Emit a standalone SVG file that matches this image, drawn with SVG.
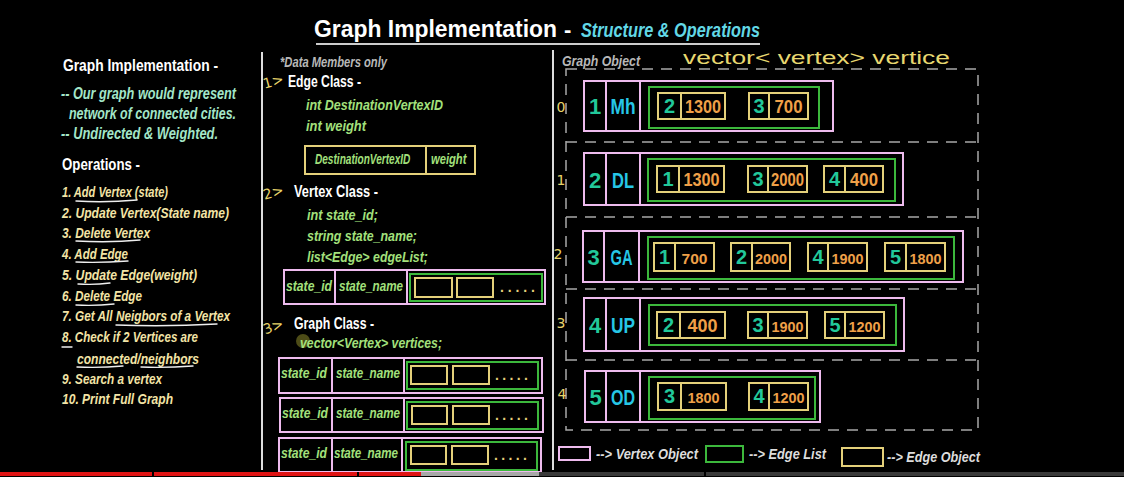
<svg xmlns="http://www.w3.org/2000/svg" width="1124" height="477" viewBox="0 0 1124 477">
<defs>
<style>
text{font-family:"Liberation Sans Narrow","Liberation Sans",Arial,sans-serif;}
.h{fill:#ffffff;font-weight:bold;font-size:17px;}
.tl{fill:#a3e6c8;font-weight:bold;font-style:italic;font-size:16px;}
.op{fill:#f3e4a6;font-weight:bold;font-style:italic;font-size:15.5px;}
.cd{fill:#a3e07c;font-weight:bold;font-style:italic;font-size:15.5px;}
.cds{fill:#a3e07c;font-weight:bold;font-style:italic;font-size:14px;}
.gr{fill:#b8b8b8;font-weight:bold;font-style:italic;font-size:14px;}
.lg{fill:#dddddd;font-weight:bold;font-style:italic;font-size:15px;}
.hw{fill:#e8d46a;font-family:"DejaVu Sans",sans-serif;font-size:14px;font-weight:normal;}
.pink{fill:none;stroke:#eebbee;stroke-width:2;}
.grn{fill:none;stroke:#3cb83c;stroke-width:2;}
.yel{fill:none;stroke:#e4d07a;stroke-width:2;}
.dash{fill:none;stroke:#a8a8a8;stroke-width:1.5;stroke-dasharray:11 8;}
.ul{fill:none;stroke:#eeeeee;stroke-width:1.4;stroke-linecap:round;}
.vid{fill:#22c89a;font-weight:bold;font-size:22px;text-anchor:middle;}
.vn{fill:#26c6e6;font-weight:bold;font-size:22px;text-anchor:middle;}
.ed{fill:#22c89a;font-weight:bold;font-size:20px;text-anchor:middle;}
.ew{fill:#f0a048;font-weight:bold;font-size:18px;text-anchor:middle;}
.ews{fill:#f0a048;font-weight:bold;font-size:15.5px;text-anchor:middle;}
.dots{fill:#e4d07a;font-weight:bold;font-size:14px;}
</style>
</defs>
<rect x="0" y="0" width="1124" height="477" fill="#000000"/>

<g id="title">
<text x="314" y="37" fill="#ffffff" font-weight="bold" font-size="23" textLength="243" lengthAdjust="spacingAndGlyphs">Graph Implementation</text>
<text x="564" y="37" fill="#ffffff" font-weight="bold" font-size="22">-</text>
<text x="581" y="37" fill="#62d8e6" font-weight="bold" font-style="italic" font-size="21" textLength="179" lengthAdjust="spacingAndGlyphs">Structure &amp; Operations</text>
<line x1="316" y1="44" x2="760" y2="44" stroke="#cccccc" stroke-width="2"/>
</g>

<g id="separators">
<line x1="262" y1="52" x2="262" y2="470" stroke="#dddddd" stroke-width="2"/>
<line x1="553" y1="50" x2="553" y2="470" stroke="#dddddd" stroke-width="2"/>
</g>

<g id="left-panel">
<text class="h" x="63" y="71" textLength="155" lengthAdjust="spacingAndGlyphs">Graph Implementation -</text>
<text class="tl" x="61" y="99" textLength="175" lengthAdjust="spacingAndGlyphs">-- Our graph would represent</text>
<text class="tl" x="69" y="119" textLength="167" lengthAdjust="spacingAndGlyphs">network of connected cities.</text>
<text class="tl" x="61" y="139" textLength="157" lengthAdjust="spacingAndGlyphs">--  Undirected &amp; Weighted.</text>
<text class="h" x="62" y="170" textLength="78" lengthAdjust="spacingAndGlyphs">Operations -</text>
<text class="op" x="62" y="197" textLength="106" lengthAdjust="spacingAndGlyphs">1. Add Vertex (state)</text>
<text class="op" x="62" y="218" textLength="167" lengthAdjust="spacingAndGlyphs">2. Update Vertex(State name)</text>
<text class="op" x="62" y="238" textLength="88" lengthAdjust="spacingAndGlyphs">3. Delete Vertex</text>
<text class="op" x="62" y="259" textLength="66" lengthAdjust="spacingAndGlyphs">4. Add Edge</text>
<text class="op" x="62" y="280" textLength="135" lengthAdjust="spacingAndGlyphs">5. Update Edge(weight)</text>
<text class="op" x="62" y="301" textLength="80" lengthAdjust="spacingAndGlyphs">6. Delete Edge</text>
<text class="op" x="62" y="321" textLength="168" lengthAdjust="spacingAndGlyphs">7. Get All Neigbors of a Vertex</text>
<text class="op" x="62" y="342" textLength="136" lengthAdjust="spacingAndGlyphs">8. Check if 2 Vertices are</text>
<text class="op" x="77" y="364" textLength="122" lengthAdjust="spacingAndGlyphs">connected/neighbors</text>
<text class="op" x="62" y="384" textLength="100" lengthAdjust="spacingAndGlyphs">9. Search a vertex</text>
<text class="op" x="62" y="404" textLength="111" lengthAdjust="spacingAndGlyphs">10. Print Full Graph</text>
<path class="ul" d="M76 201 Q105 203 137 200"/>
<path class="ul" d="M76 241 Q110 243 140 240"/>
<path class="ul" d="M76 262 Q100 263 128 261"/>
<path class="ul" d="M78 284 Q95 285 110 283"/>
<path class="ul" d="M76 305 Q95 306 114 304"/>
<path class="ul" d="M116 325 Q165 327 217 324"/>
<path class="ul" d="M62 347 L72 347"/>
<path class="ul" d="M77 367 Q100 368 123 366"/>
<path class="ul" d="M141 367 Q165 368 193 366"/>
</g>

<g id="edge-class">
<text class="gr" x="280" y="67" textLength="107" lengthAdjust="spacingAndGlyphs">*Data Members only</text>
<text class="hw" x="263" y="87" transform="rotate(-15 270 82)">1&gt;</text>
<text class="h" x="288" y="87" textLength="73" lengthAdjust="spacingAndGlyphs">Edge Class -</text>
<text class="cd" x="306" y="110" textLength="137" lengthAdjust="spacingAndGlyphs">int DestinationVertexID</text>
<text class="cd" x="306" y="131" textLength="60" lengthAdjust="spacingAndGlyphs">int weight</text>
<rect class="yel" x="305" y="146" width="170" height="28"/>
<line class="yel" x1="426" y1="146" x2="426" y2="174"/>
<text class="cds" transform="matrix(0.72 0 0 1 315 164)" x="0" y="0">DestinationVertexID</text>
<text class="cds" transform="matrix(0.8 0 0 1 431 164)" x="0" y="0">weight</text>
</g>

<g id="vertex-class">
<text class="hw" x="263" y="198" transform="rotate(-15 270 193)">2&gt;</text>
<text class="h" x="294" y="197" textLength="84" lengthAdjust="spacingAndGlyphs">Vertex Class -</text>
<text class="cd" x="307" y="220" textLength="71" lengthAdjust="spacingAndGlyphs">int state_id;</text>
<text class="cd" x="307" y="241" textLength="110" lengthAdjust="spacingAndGlyphs">string state_name;</text>
<text class="cd" x="307" y="262" textLength="121" lengthAdjust="spacingAndGlyphs">list&lt;Edge&gt; edgeList;</text>
<rect class="pink" x="284" y="270" width="261" height="34"/>
<line class="pink" x1="335" y1="270" x2="335" y2="304"/>
<line class="pink" x1="407" y1="270" x2="407" y2="304"/>
<text class="cds" x="286" y="291" textLength="46" lengthAdjust="spacingAndGlyphs">state_id</text>
<text class="cds" x="339" y="291" textLength="64" lengthAdjust="spacingAndGlyphs">state_name</text>
<rect class="grn" x="410" y="274" width="132" height="27"/>
<rect class="yel" x="415" y="278" width="37" height="19"/>
<rect class="yel" x="457" y="278" width="36" height="19"/>
<text class="dots" x="500" y="292" textLength="35" lengthAdjust="spacing">.....</text>
</g>

<g id="graph-class">
<text class="hw" x="263" y="332" transform="rotate(-20 271 327)">3&gt;</text>
<text class="h" x="294" y="329" textLength="80" lengthAdjust="spacingAndGlyphs">Graph Class -</text>
<circle cx="303" cy="341" r="7" fill="#8c8a2a" opacity="0.55"/>
<text class="cd" x="300" y="348" textLength="142" lengthAdjust="spacingAndGlyphs">vector&lt;Vertex&gt; vertices;</text>
<g id="gc-row1">
<rect class="pink" x="279" y="358" width="263" height="35"/>
<line class="pink" x1="332" y1="358" x2="332" y2="393"/>
<line class="pink" x1="404" y1="358" x2="404" y2="393"/>
<text class="cds" x="281" y="378" textLength="46" lengthAdjust="spacingAndGlyphs">state_id</text>
<text class="cds" x="336" y="378" textLength="64" lengthAdjust="spacingAndGlyphs">state_name</text>
<rect class="grn" x="407" y="362" width="131" height="27"/>
<rect class="yel" x="411" y="366" width="36" height="18"/>
<rect class="yel" x="453" y="366" width="36" height="18"/>
<text class="dots" x="495" y="380" textLength="33" lengthAdjust="spacing">.....</text>
</g>
<g id="gc-row2">
<rect class="pink" x="280" y="398" width="263" height="34"/>
<line class="pink" x1="332" y1="398" x2="332" y2="432"/>
<line class="pink" x1="404" y1="398" x2="404" y2="432"/>
<text class="cds" x="282" y="418" textLength="46" lengthAdjust="spacingAndGlyphs">state_id</text>
<text class="cds" x="336" y="418" textLength="64" lengthAdjust="spacingAndGlyphs">state_name</text>
<rect class="grn" x="407" y="402" width="131" height="27"/>
<rect class="yel" x="412" y="406" width="35" height="18"/>
<rect class="yel" x="453" y="406" width="36" height="18"/>
<text class="dots" x="495" y="420" textLength="33" lengthAdjust="spacing">.....</text>
</g>
<g id="gc-row3">
<rect class="pink" x="279" y="438" width="262" height="34"/>
<line class="pink" x1="332" y1="438" x2="332" y2="472"/>
<line class="pink" x1="402" y1="438" x2="402" y2="472"/>
<text class="cds" x="281" y="458" textLength="46" lengthAdjust="spacingAndGlyphs">state_id</text>
<text class="cds" x="334" y="458" textLength="64" lengthAdjust="spacingAndGlyphs">state_name</text>
<rect class="grn" x="406" y="442" width="131" height="28"/>
<rect class="yel" x="411" y="446" width="35" height="18"/>
<rect class="yel" x="452" y="446" width="36" height="18"/>
<text class="dots" x="494" y="460" textLength="33" lengthAdjust="spacing">.....</text>
</g>
</g>

<g id="graph-object">
<text class="gr" x="562" y="66" textLength="78" lengthAdjust="spacingAndGlyphs">Graph Object</text>
<text x="683" y="64" fill="#e8d870" font-family="DejaVu Sans,sans-serif" font-weight="200" font-size="18" textLength="267" lengthAdjust="spacingAndGlyphs">vector&lt; vertex&gt;  vertice</text>
<rect class="dash" x="566" y="69" width="412" height="361"/>
<line class="dash" x1="566" y1="142" x2="978" y2="142"/>
<line class="dash" x1="566" y1="217" x2="978" y2="217"/>
<line class="dash" x1="566" y1="289" x2="978" y2="289"/>
<line class="dash" x1="566" y1="360" x2="978" y2="360"/>
<text class="hw" x="561" y="112" text-anchor="middle" font-size="16">0</text>
<text class="hw" x="561" y="185" text-anchor="middle" font-size="16">1</text>
<text class="hw" x="558" y="259" text-anchor="middle" font-size="16">2</text>
<text class="hw" x="561" y="328" text-anchor="middle" font-size="16">3</text>
<text class="hw" x="562" y="399" text-anchor="middle" font-size="16">4</text>
</g>

<g id="vertex-Mh">
<rect class="pink" x="584" y="81" width="249" height="50"/>
<line class="pink" x1="606" y1="81" x2="606" y2="131"/>
<line class="pink" x1="640" y1="81" x2="640" y2="131"/>
<text class="vid" x="595" y="114">1</text>
<text class="vn" x="623" y="114" textLength="25" lengthAdjust="spacingAndGlyphs">Mh</text>
<rect class="grn" x="649" y="87" width="170" height="41"/>
<rect class="yel" x="658" y="93" width="67" height="26"/><line class="yel" x1="681" y1="93" x2="681" y2="119"/>
<text class="ed" x="669.5" y="113">2</text><text class="ew" x="703" y="113" textLength="36" lengthAdjust="spacingAndGlyphs">1300</text>
<rect class="yel" x="749" y="93" width="59" height="26"/><line class="yel" x1="769" y1="93" x2="769" y2="119"/>
<text class="ed" x="759" y="113">3</text><text class="ew" x="788.5" y="113" textLength="28" lengthAdjust="spacingAndGlyphs">700</text>
</g>

<g id="vertex-DL">
<rect class="pink" x="584" y="153" width="319" height="52"/>
<line class="pink" x1="606" y1="153" x2="606" y2="205"/>
<line class="pink" x1="640" y1="153" x2="640" y2="205"/>
<text class="vid" x="595" y="188">2</text>
<text class="vn" x="623" y="188" textLength="22" lengthAdjust="spacingAndGlyphs">DL</text>
<rect class="grn" x="648" y="159" width="247" height="42"/>
<rect class="yel" x="657" y="166" width="67" height="26"/><line class="yel" x1="679" y1="166" x2="679" y2="192"/>
<text class="ed" x="668" y="186">1</text><text class="ew" x="701.5" y="186" textLength="36" lengthAdjust="spacingAndGlyphs">1300</text>
<rect class="yel" x="748" y="166" width="59" height="26"/><line class="yel" x1="768" y1="166" x2="768" y2="192"/>
<text class="ed" x="758" y="186">3</text><text class="ew" x="787.5" y="186" textLength="33" lengthAdjust="spacingAndGlyphs">2000</text>
<rect class="yel" x="824" y="166" width="59" height="26"/><line class="yel" x1="845" y1="166" x2="845" y2="192"/>
<text class="ed" x="834.5" y="186">4</text><text class="ew" x="864" y="186" textLength="28" lengthAdjust="spacingAndGlyphs">400</text>
</g>

<g id="vertex-GA">
<rect class="pink" x="583" y="231" width="380" height="51"/>
<line class="pink" x1="604" y1="231" x2="604" y2="282"/>
<line class="pink" x1="639" y1="231" x2="639" y2="282"/>
<text class="vid" x="593.5" y="265">3</text>
<text class="vn" x="621.5" y="265" textLength="22" lengthAdjust="spacingAndGlyphs">GA</text>
<rect class="grn" x="648" y="237" width="306" height="42"/>
<rect class="yel" x="654" y="243" width="60" height="28"/><line class="yel" x1="675" y1="243" x2="675" y2="271"/>
<text class="ed" x="664.5" y="264">1</text><text class="ews" x="694.5" y="264" textLength="26" lengthAdjust="spacingAndGlyphs">700</text>
<rect class="yel" x="731" y="243" width="59" height="28"/><line class="yel" x1="752" y1="243" x2="752" y2="271"/>
<text class="ed" x="741.5" y="264">2</text><text class="ews" x="771" y="264" textLength="32" lengthAdjust="spacingAndGlyphs">2000</text>
<rect class="yel" x="808" y="243" width="59" height="28"/><line class="yel" x1="828" y1="243" x2="828" y2="271"/>
<text class="ed" x="818" y="264">4</text><text class="ews" x="847.5" y="264" textLength="32" lengthAdjust="spacingAndGlyphs">1900</text>
<rect class="yel" x="885" y="243" width="60" height="28"/><line class="yel" x1="906" y1="243" x2="906" y2="271"/>
<text class="ed" x="895.5" y="264">5</text><text class="ews" x="925.5" y="264" textLength="32" lengthAdjust="spacingAndGlyphs">1800</text>
</g>

<g id="vertex-UP">
<rect class="pink" x="584" y="298" width="320" height="53"/>
<line class="pink" x1="606" y1="298" x2="606" y2="351"/>
<line class="pink" x1="640" y1="298" x2="640" y2="351"/>
<text class="vid" x="595" y="333">4</text>
<text class="vn" x="623" y="333" textLength="24" lengthAdjust="spacingAndGlyphs">UP</text>
<rect class="grn" x="649" y="305" width="247" height="40"/>
<rect class="yel" x="657" y="312" width="68" height="26"/><line class="yel" x1="680" y1="312" x2="680" y2="338"/>
<text class="ed" x="668.5" y="332">2</text><text class="ew" x="702.5" y="332" textLength="30" lengthAdjust="spacingAndGlyphs">400</text>
<rect class="yel" x="748" y="312" width="59" height="26"/><line class="yel" x1="768" y1="312" x2="768" y2="338"/>
<text class="ed" x="758" y="332">3</text><text class="ews" x="787.5" y="332" textLength="32" lengthAdjust="spacingAndGlyphs">1900</text>
<rect class="yel" x="825" y="312" width="59" height="26"/><line class="yel" x1="845" y1="312" x2="845" y2="338"/>
<text class="ed" x="835" y="332">5</text><text class="ews" x="864.5" y="332" textLength="32" lengthAdjust="spacingAndGlyphs">1200</text>
</g>

<g id="vertex-OD">
<rect class="pink" x="585" y="371" width="235" height="51"/>
<line class="pink" x1="606" y1="371" x2="606" y2="422"/>
<line class="pink" x1="640" y1="371" x2="640" y2="422"/>
<text class="vid" x="595.5" y="405">5</text>
<text class="vn" x="623" y="405" textLength="24" lengthAdjust="spacingAndGlyphs">OD</text>
<rect class="grn" x="649" y="377" width="166" height="42"/>
<rect class="yel" x="658" y="383" width="68" height="27"/><line class="yel" x1="681" y1="383" x2="681" y2="410"/>
<text class="ed" x="669.5" y="403">3</text><text class="ews" x="703.5" y="403" textLength="32" lengthAdjust="spacingAndGlyphs">1800</text>
<rect class="yel" x="749" y="383" width="59" height="27"/><line class="yel" x1="769" y1="383" x2="769" y2="410"/>
<text class="ed" x="759" y="403">4</text><text class="ews" x="788.5" y="403" textLength="32" lengthAdjust="spacingAndGlyphs">1200</text>
</g>

<g id="legend">
<rect class="pink" x="559" y="447" width="31" height="13"/>
<text class="lg" x="596" y="459" textLength="102" lengthAdjust="spacingAndGlyphs">--&gt; Vertex Object</text>
<rect class="grn" x="706" y="446" width="37" height="16"/>
<text class="lg" x="749" y="459" textLength="77" lengthAdjust="spacingAndGlyphs">--&gt; Edge List</text>
<rect class="yel" x="842" y="448" width="41" height="18"/>
<text class="lg" x="887" y="462" textLength="93" lengthAdjust="spacingAndGlyphs">--&gt; Edge Object</text>
</g>

<g id="connectors"></g>

<g id="progress-bar">
<rect x="0" y="472" width="421" height="4" fill="#e01414"/>
<rect x="421" y="472" width="118" height="4" fill="#a8a8a8"/>
<rect x="539" y="472" width="585" height="4" fill="#3a3a3a"/>
<rect x="152" y="472" width="2" height="4" fill="#000000"/>
<rect x="357" y="472" width="2" height="4" fill="#000000"/>
<rect x="704" y="472" width="2" height="4" fill="#000000"/>
</g>
</svg>
